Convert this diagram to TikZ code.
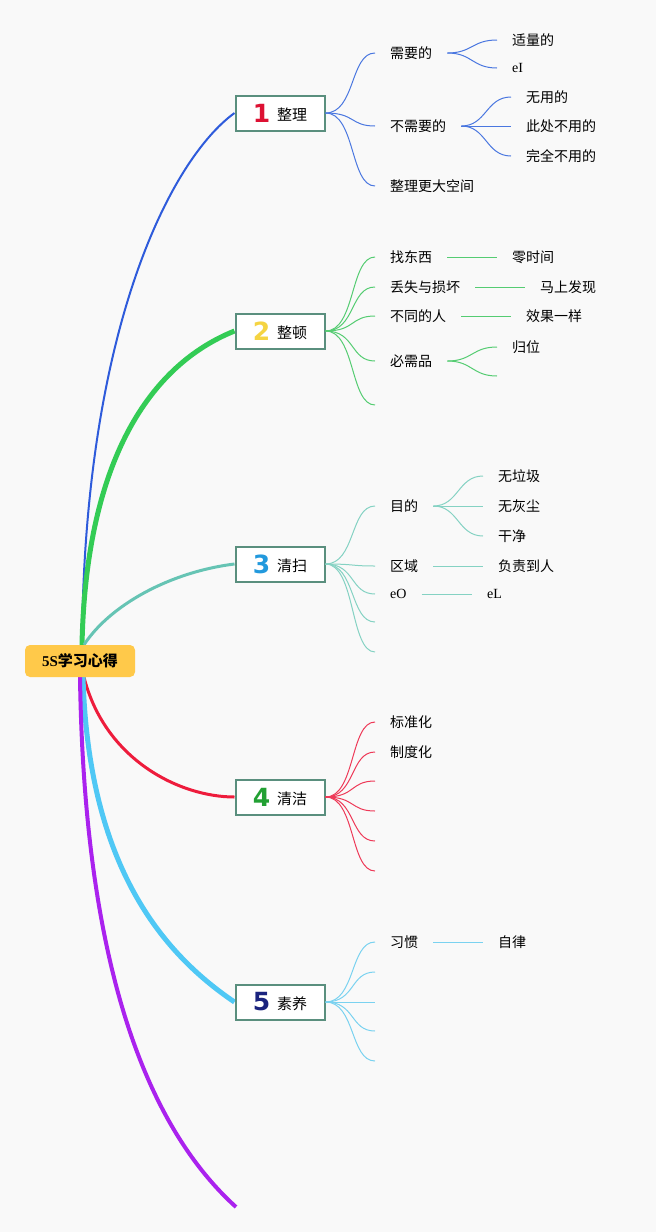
\documentclass[tikz,border=0pt]{standalone}
\usepackage{fontspec}
\setmainfont{Liberation Serif}
\newfontfamily\cjk{Noto Sans CJK SC}
\newfontfamily\numf{DejaVu Sans}
\usetikzlibrary{calc}
\definecolor{bgc}{HTML}{F9F9F9}
\definecolor{cA}{HTML}{2E5BDB}
\definecolor{cAs}{HTML}{4A77E0}
\definecolor{cB}{HTML}{33CC55}
\definecolor{cBs}{HTML}{55CC72}
\definecolor{cC}{HTML}{66C4B4}
\definecolor{cCs}{HTML}{85D2C3}
\definecolor{cD}{HTML}{EE1C3C}
\definecolor{cDs}{HTML}{EE3A58}
\definecolor{cE}{HTML}{4FC8F5}
\definecolor{cEs}{HTML}{7AD2F0}
\definecolor{cF}{HTML}{AA22EE}
\definecolor{boxb}{HTML}{5A8F7E}
\definecolor{rootc}{HTML}{FFC94A}
\definecolor{n1}{HTML}{DD1133}
\definecolor{n2}{HTML}{F5D442}
\definecolor{n3}{HTML}{2299DD}
\definecolor{n4}{HTML}{22A033}
\definecolor{n5}{HTML}{1A237E}
\pgfdeclarelayer{bg}
\pgfdeclarelayer{lines}
\pgfsetlayers{bg,lines,main}
\tikzset{
  mainbox/.style={draw=boxb, line width=2pt, fill=white, minimum width=89pt, minimum height=35pt, inner sep=0pt, font=\cjk\fontsize{15}{17}\selectfont},
  leaf/.style={anchor=west, inner xsep=15pt, inner ysep=2pt, font=\cjk\fontsize{14}{16}\selectfont},
  sub/.style={line width=1pt},
}
\newcommand{\numlab}[2]{\raisebox{0pt}{\textcolor{#1}{\numf\bfseries\fontsize{25}{25}\selectfont #2}}\hspace{7pt}\raisebox{1.5pt}}
\begin{document}
\begin{tikzpicture}[x=1pt,y=-1pt]
\begin{pgfonlayer}{bg}
\fill[bgc] (0,0) rectangle (656,1232);
\end{pgfonlayer}
% root
\node[fill=rootc, rounded corners=5pt, minimum width=110pt, minimum height=32pt, inner sep=0pt] (r) at (80,661) {\bfseries\fontsize{15}{17}\selectfont 5S{\cjk\bfseries 学习心得}};
% main nodes
\node[mainbox] (m1) at (280,113) {\numlab{n1}{1}{整理}};
\node[mainbox] (m2) at (280,331) {\numlab{n2}{2}{整顿}};
\node[mainbox] (m3) at (280,564) {\numlab{n3}{3}{清扫}};
\node[mainbox] (m4) at (280,797) {\numlab{n4}{4}{清洁}};
\node[mainbox] (m5) at (280,1002) {\numlab{n5}{5}{素养}};
\coordinate (m6) at (236,1207);
\begin{pgfonlayer}{lines}
\draw[cA, line width=2pt] ($(r.north)+(2,0)$) .. controls (84,330) and (170,160) .. (m1.west);
\draw[cB, line width=5pt] ($(r.north)+(2,0)$) .. controls (86,460) and (150,365) .. (m2.west);
\draw[cC, line width=3pt] ($(r.north)+(4,0)$) .. controls (110,605) and (170,572) .. (m3.west);
\draw[cD, line width=3pt] ($(r.south)+(4,0)$) .. controls (105,760) and (180,797) .. (m4.west);
\draw[cE, line width=5pt] ($(r.south)+(3,0)$) .. controls (88,850) and (150,945) .. (m5.west);
\draw[cF, line width=4pt] ($(r.south)+(0,0)$) .. controls (84,950) and (140,1120) .. (m6);
\end{pgfonlayer}
% ---------- branch 1
\node[leaf] (a1) at (375,53) {需要的};
\node[leaf] (a2) at (375,126) {不需要的};
\node[leaf] (a3) at (375,186) {整理更大空间};
\node[leaf] (a11) at (497,40) {适量的};
\node[leaf] (a12) at (497,68) {\rmfamily eI};
\node[leaf] (a21) at (511,97) {无用的};
\node[leaf] (a22) at (511,126) {此处不用的};
\node[leaf] (a23) at (511,156) {完全不用的};
\foreach \t in {a1,a2,a3}
  \draw[cAs, sub] (m1.east) .. controls +(30,0) and +(-25,0) .. (\t.west);
\foreach \t in {a11,a12}
  \draw[cAs, sub] (a1.east) .. controls +(25,0) and +(-25,0) .. (\t.west);
\foreach \t in {a21,a22,a23}
  \draw[cAs, sub] (a2.east) .. controls +(25,0) and +(-25,0) .. (\t.west);
% ---------- branch 2
\node[leaf] (b1) at (375,257) {找东西};
\node[leaf] (b2) at (375,287) {丢失与损坏};
\node[leaf] (b3) at (375,316) {不同的人};
\node[leaf] (b4) at (375,361) {必需品};
\coordinate (b5) at (375,405);
\node[leaf] (b11) at (497,257) {零时间};
\node[leaf] (b21) at (525,287) {马上发现};
\node[leaf] (b31) at (511,316) {效果一样};
\node[leaf] (b41) at (497,347) {归位};
\coordinate (b42) at (497,376);
\foreach \t in {b1.west,b2.west,b3.west,b4.west,b5}
  \draw[cBs, sub] (m2.east) .. controls +(30,0) and +(-25,0) .. (\t);
\draw[cBs, sub] (b1.east) -- (b11.west);
\draw[cBs, sub] (b2.east) -- (b21.west);
\draw[cBs, sub] (b3.east) -- (b31.west);
\draw[cBs, sub] (b4.east) .. controls +(25,0) and +(-25,0) .. (b41.west);
\draw[cBs, sub] (b4.east) .. controls +(25,0) and +(-25,0) .. (b42);
% ---------- branch 3
\node[leaf] (c1) at (375,506) {目的};
\node[leaf] (c2) at (375,566) {区域};
\node[leaf] (c3) at (375,594) {\rmfamily eO};
\coordinate (c4) at (375,622);
\coordinate (c5) at (375,652);
\node[leaf] (c11) at (483,476) {无垃圾};
\node[leaf] (c12) at (483,506) {无灰尘};
\node[leaf] (c13) at (483,536) {干净};
\node[leaf] (c21) at (483,566) {负责到人};
\node[leaf] (c31) at (472,594) {\rmfamily eL};
\foreach \t in {c1.west,c2.west,c3.west,c4,c5}
  \draw[cCs, sub] (m3.east) .. controls +(30,0) and +(-25,0) .. (\t);
\foreach \t in {c11,c12,c13}
  \draw[cCs, sub] (c1.east) .. controls +(25,0) and +(-25,0) .. (\t.west);
\draw[cCs, sub] (c2.east) -- (c21.west);
\draw[cCs, sub] (c3.east) -- (c31.west);
% ---------- branch 4
\node[leaf] (d1) at (375,722) {标准化};
\node[leaf] (d2) at (375,752) {制度化};
\coordinate (d3) at (375,781);
\coordinate (d4) at (375,811);
\coordinate (d5) at (375,841);
\coordinate (d6) at (375,871);
\foreach \t in {d1.west,d2.west,d3,d4,d5,d6}
  \draw[cDs, sub] (m4.east) .. controls +(30,0) and +(-25,0) .. (\t);
% ---------- branch 5
\node[leaf] (e1) at (375,942) {习惯};
\coordinate (e2) at (375,972);
\coordinate (e3) at (375,1002);
\coordinate (e4) at (375,1031);
\coordinate (e5) at (375,1061);
\node[leaf] (e11) at (483,942) {自律};
\foreach \t in {e1.west,e2,e3,e4,e5}
  \draw[cEs, sub] (m5.east) .. controls +(30,0) and +(-25,0) .. (\t);
\draw[cEs, sub] (e1.east) -- (e11.west);
\end{tikzpicture}
\end{document}
